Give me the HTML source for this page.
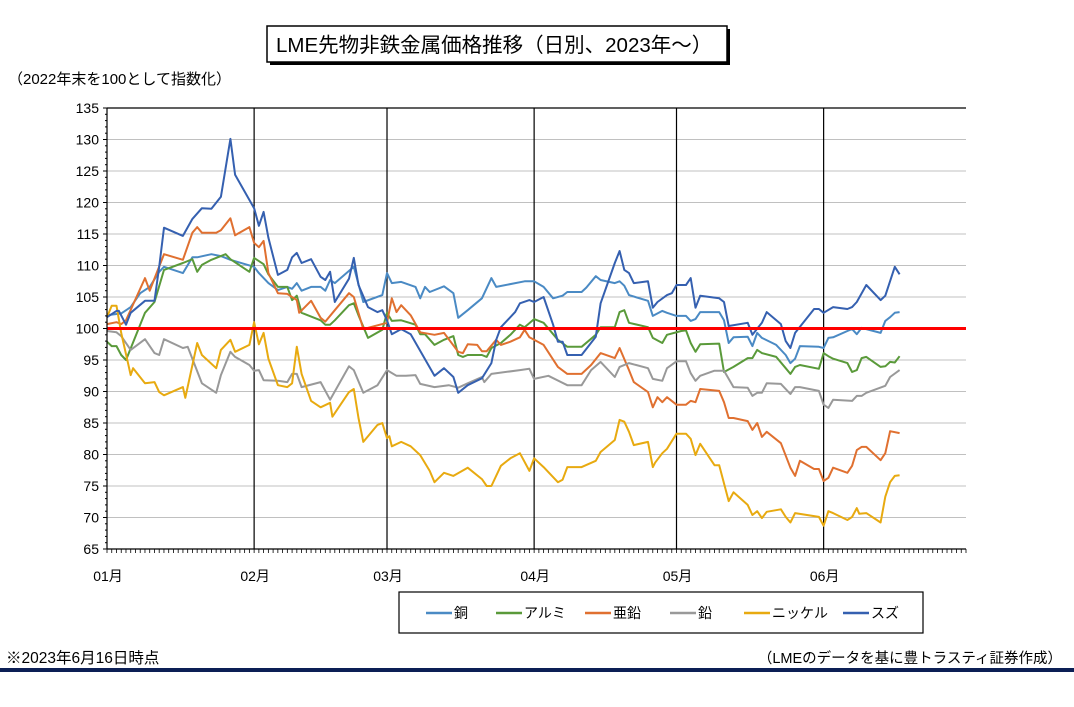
<!DOCTYPE html>
<html><head><meta charset="utf-8"><style>
body{margin:0;background:#fff;}
svg{display:block;font-family:"Liberation Sans","Noto Sans CJK JP",sans-serif;}
</style></head><body>
<svg id="chart" width="1074" height="707" viewBox="0 0 1074 707">
<rect x="270" y="29" width="460" height="36" fill="#000"/>
<rect x="267" y="26" width="460" height="36" fill="#fff" stroke="#000" stroke-width="1.5"/>
<text x="276" y="52" font-size="20.5">LME先物非鉄金属価格推移（日別、2023年～）</text>
<text x="8" y="84" font-size="15">（2022年末を100として指数化）</text>
<g id="grid"></g>
<g id="series"></g>
<g id="axes"></g>
<rect x="399" y="592" width="524" height="41" fill="#fff" stroke="#000" stroke-width="1.2"/>
<g id="legend"></g>
<text x="6" y="663" font-size="15.5">※2023年6月16日時点</text>
<text x="1062" y="663" font-size="14.5" text-anchor="end">（LMEのデータを基に豊トラスティ証券作成）</text>
<rect x="0" y="668" width="1074" height="4" fill="#0c1f55"/>
</svg>
<script>
const yTicks=[65,70,75,80,85,90,95,100,105,110,115,120,125,130,135];
const monthLabels=["01月","02月","03月","04月","05月","06月"];
const monthStarts=[0,31,59,90,120,151];
const seriesNames=["銅","アルミ","亜鉛","鉛","ニッケル","スズ"];
const seriesColors=["#4a8ac4","#5a9a3a","#e07030","#999999","#e8aa10","#3560b0"];
const copper=[[0,102.1],[3,102.4],[5,103.4],[7,105.6],[9,106.6],[11,109],[12,109.8],[16,108.8],[18,111.3],[19,111.3],[22,111.8],[24,111.5],[26,110.9],[31,109.8],[32,108.8],[34,107.2],[36,106.1],[38,106.6],[39,106.3],[40,107.2],[41,106],[43,106.6],[45,106.6],[46,106],[47,107.7],[48,107.2],[52,109.8],[54,104.2],[58,105.3],[59,108.8],[60,107.2],[62,107.4],[65,106.6],[66,104.8],[67,106.6],[68,105.8],[71,106.7],[73,105.6],[74,101.7],[76,102.9],[79,104.8],[81,108],[82,106.6],[88,107.5],[90,107.5],[92,106.6],[94,104.8],[96,105.2],[97,105.8],[100,105.8],[101,106.5],[103,108.3],[104,107.7],[107,107.2],[108,107.5],[109,106.8],[110,105.3],[114,104.4],[115,102],[117,102.8],[118,102.5],[120,102],[122,102],[123,101.2],[124,101.5],[125,102.6],[129,102.6],[130,101.3],[131,97.7],[132,98.6],[135,98.7],[136,97.2],[137,99.3],[138,98.5],[141,97.4],[143,95.8],[144,94.5],[145,95.2],[146,97.2],[150,97.1],[151,96.9],[152,98.5],[153,98.6],[156,99.6],[157,99.9],[158,99.1],[159,100.1],[163,99.3],[164,101.2],[165,101.8],[166,102.5],[167,102.6]];
const aluminium=[[0,97.9],[1,97.2],[2,97.2],[3,95.8],[4,95],[8,102.5],[10,104.2],[12,109.3],[16,110.4],[18,111],[19,109],[20,110.1],[22,110.9],[25,111.8],[26,111],[30,109],[31,111.2],[33,110.2],[34,108.6],[36,106.6],[38,106.6],[39,104.5],[40,105.2],[41,102.5],[45,101.3],[46,100.6],[47,100.6],[48,101.3],[51,103.7],[52,104],[53,102.1],[55,98.5],[58,99.8],[59,102.5],[60,101.2],[62,101.3],[65,100.6],[66,99.1],[67,99.1],[69,97.4],[71,98.2],[73,98.8],[74,95.8],[75,95.5],[76,95.8],[79,95.8],[80,95.5],[81,96.9],[83,97.7],[85,99],[87,100.6],[88,100.2],[90,101.5],[92,100.9],[95,98.2],[97,97.1],[100,97.1],[103,99],[104,100.2],[107,100.2],[108,102.6],[109,102.9],[110,100.9],[114,100.2],[115,98.5],[117,97.7],[118,99],[121,99.6],[122,99.7],[123,97.7],[124,96.3],[125,97.5],[129,97.6],[130,93.1],[132,93.9],[135,95.3],[136,95.3],[137,96.6],[138,96.1],[141,95.5],[143,93.7],[144,92.8],[145,93.9],[146,94.2],[150,93.6],[151,96.1],[152,95.6],[153,95.2],[156,94.5],[157,93.1],[158,93.4],[159,95.3],[160,95.5],[163,93.9],[164,94],[165,94.7],[166,94.6],[167,95.6]];
const zinc=[[0,100.7],[2,101],[3,100.7],[4,101.3],[8,108],[9,106],[12,111.8],[16,110.9],[18,115.2],[19,116.1],[20,115.2],[23,115.2],[24,115.6],[26,117.5],[27,114.8],[30,116.1],[31,113.6],[32,112.9],[33,113.9],[34,108.8],[36,105.6],[38,105.5],[40,104.5],[40.5,102.5],[43,104.4],[45,101.7],[46,101.1],[48,102.9],[51,105.6],[52,105],[54,99.9],[59,100.9],[60,104.8],[61,102.6],[62,103.7],[64,102.1],[66,99.4],[69,99],[71,99.3],[74,96.3],[75,96.1],[76,97.5],[78,97.4],[79,96.4],[80,96.4],[82,98.2],[83,97.4],[85,97.9],[87,98.6],[88,99.8],[89,98.6],[90,98.2],[92,97.4],[95,93.9],[97,92.8],[100,92.8],[102,94.2],[104,96.1],[107,95.3],[108,96.9],[110,93.4],[111,91.5],[114,89.9],[115,87.5],[116,89.1],[117,88.3],[118,89.1],[120,87.9],[122,87.9],[123,88.5],[124,88.3],[125,90.4],[129,90.1],[130,88.3],[131,85.8],[132,85.8],[135,85.3],[136,83.9],[137,85],[138,82.8],[139,83.6],[142,81.8],[144,77.9],[145,76.6],[146,79],[149,77.7],[150,77.7],[151,75.8],[152,76.3],[153,77.9],[156,77.1],[157,78.2],[158,80.7],[159,81.2],[160,81.2],[163,79.1],[164,80.2],[165,83.7],[167,83.4]];
const lead=[[0,99.6],[2,99.4],[3,98.8],[5,96.6],[8,98.3],[10,96.1],[11,95.8],[12,98.3],[16,96.9],[17,97.1],[20,91.3],[23,89.8],[24,92.6],[26,96.3],[27,95.5],[30,94.2],[31,93.3],[32,93.4],[33,91.8],[36,91.7],[38,91.5],[39,92.8],[40,92.8],[41,90.7],[45,91.5],[47,88.7],[51,94],[52,93.4],[54,89.8],[57,91],[59,93.4],[61,92.5],[63,92.5],[65,92.6],[66,91.2],[69,90.7],[72,91],[74,90.6],[76,91.3],[79,92.3],[79.5,91.5],[81,92.8],[87,93.4],[89,93.6],[90,92],[93,92.5],[97,91],[100,91],[102,93.4],[104,94.7],[107,92.3],[108,93.9],[110,94.5],[114,93.7],[115,92],[117,91.7],[118,93.7],[120,94.8],[122,94.8],[123,92.9],[124,91.7],[125,92.5],[128,93.3],[130,93.3],[132,90.7],[135,90.6],[136,89.3],[137,89.8],[138,89.8],[139,91.3],[142,91.2],[144,89.6],[145,90.7],[146,90.7],[150,90.1],[151,87.9],[152,87.4],[153,88.7],[157,88.5],[158,89.3],[159,89.3],[160,89.8],[164,90.9],[165,92.3],[167,93.4]];
const nickel=[[0,101.8],[1,103.6],[2,103.6],[3,99.3],[5,92.6],[5.5,93.7],[8,91.3],[10,91.5],[11,89.9],[12,89.4],[16,90.7],[16.5,89],[19,97.7],[20,95.8],[23,93.7],[24,96.6],[26,98.2],[27,96.3],[30,97.4],[31,101],[32,97.5],[33,99.3],[34,95.2],[36,91],[38,90.7],[39,91.3],[40,97.1],[41,92.8],[43,88.5],[45,87.5],[47,88.2],[47.5,86],[51,89.9],[52,90.4],[53,85.8],[54,82],[57,84.7],[58,85],[59,82.6],[59.5,82.9],[60,81.3],[62,82],[64,81.3],[66,79.9],[68,77.4],[69,75.6],[71,77.1],[73,76.6],[76,77.9],[79,76.1],[80,75],[81,75],[83,78.2],[85,79.4],[87,80.2],[89,77.4],[90,79.4],[92,78],[95,75.6],[96,76],[97,78],[100,78],[103,79],[104,80.4],[107,82.3],[108,85.5],[109,85.2],[110,83.6],[111,81.5],[114,82],[115,78],[115.5,78.7],[117,80.2],[118,80.9],[120,83.3],[122,83.3],[123,82.5],[124,79.9],[125,81.7],[128,78.3],[129,78.3],[131,72.6],[132,74],[135,72],[136,70.4],[137,71],[138,69.9],[139,70.9],[142,71.3],[143,70.1],[144,69.2],[145,70.7],[150,70.1],[151,68.7],[152,71],[153,70.7],[156,69.6],[157,70.1],[158,71.5],[158.5,70.6],[160,70.7],[163,69.2],[164,73.3],[165,75.6],[166,76.6],[167,76.7]];
const tin=[[0,101.8],[2,102.8],[2.5,102.8],[4,100.6],[5,102.5],[8,104.4],[10,104.4],[11,109.8],[12,116],[16,114.7],[18,117.4],[20,119.1],[22,119],[24,120.9],[26,130.1],[27,124.4],[31,119.1],[32,116.3],[33,118.5],[34,114.4],[36,108.5],[38,109.3],[39,111.3],[40,112],[41,110.4],[43,111],[45,108.2],[46,107.7],[47,109],[48,104.2],[51,107.9],[52,111.2],[53,106.9],[55,103.4],[57,102.6],[58,102.9],[59,101.3],[60,99.1],[62,99.9],[64,99.1],[69,92.5],[71,93.7],[73,92.3],[74,89.8],[76,91],[79,92.1],[81,94.5],[82,98.2],[83,100.2],[86,102.6],[87,104],[89,104.5],[90,104.2],[92,105],[94,100.6],[95,97.9],[96,97.9],[97,95.8],[100,95.8],[103,98.7],[104,104],[107,110.4],[108,112.3],[109,109.3],[110,108.8],[111,107.2],[114,107.5],[115,103.3],[116,104.2],[118,105.3],[119,105.6],[120,106.9],[122,106.9],[123,108],[124,103.3],[125,105.2],[129,104.8],[130,104.2],[131,100.4],[135,100.9],[136,99],[138,100.9],[139,102.6],[142,100.7],[143,98],[144,96.9],[145,99.3],[149,103.1],[150,103.1],[151,102.5],[153,103.4],[156,103.1],[157,103.4],[158,104.2],[160,106.9],[163,104.5],[164,105.2],[166,109.8],[167,108.6]];
const allSeries=[copper,aluminium,zinc,lead,nickel,tin];

const NS="http://www.w3.org/2000/svg";
const X0=107,X1=966,Y0=549,Y1=108,DAYS=181;
function xs(d){return X0+d*(X1-X0)/DAYS;}
function ys(v){return Y0-(v-65)*(Y0-Y1)/70;}
function mk(tag,attrs,parent){const e=document.createElementNS(NS,tag);for(const k in attrs)e.setAttribute(k,attrs[k]);parent.appendChild(e);return e;}
const gridG=document.getElementById('grid'),axesG=document.getElementById('axes'),serG=document.getElementById('series'),legG=document.getElementById('legend');
yTicks.forEach(t=>{
  if(t!==65&&t!==135){const l=mk('line',{x1:X0,x2:X1,y1:ys(t),y2:ys(t),stroke:'#c0c0c0','stroke-width':1},gridG);
  
  }
  const tk=mk('line',{x1:X0-4,x2:X0,y1:ys(t),y2:ys(t),stroke:'#000'},axesG);
  
  
  const tx=mk('text',{x:X0-8,y:ys(t)+5,'font-size':14,'text-anchor':'end'},axesG);
  
  
  tx.textContent=t;
});
for(let i=0;i<70;i++){if(i%5===0)continue;const y=ys(65+i);
  const m=mk('line',{x1:X0-2,x2:X0,y1:y,y2:y,stroke:'#000'},axesG);
  
  }
for(let d=0;d<=DAYS;d++){const m=mk('line',{x1:xs(d),x2:xs(d),y1:Y0,y2:Y0+4,stroke:'#000','stroke-width':0.8},axesG);
  
  }
monthStarts.forEach((d,i)=>{
  if(i>0){const l=mk('line',{x1:xs(d),x2:xs(d),y1:Y1,y2:Y0,stroke:'#000','stroke-width':1.2},gridG);
  
  }
  const t=mk('text',{x:xs(d)+1,y:581,'font-size':14,'text-anchor':'middle'},axesG);
  
  
  t.textContent=monthLabels[i];
});
const topBorder=mk('line',{x1:X0,x2:X1,y1:Y1,y2:Y1,stroke:'#000','stroke-width':1.2},axesG);


const yAxisLine=mk('line',{x1:X0,x2:X0,y1:Y1,y2:Y0,stroke:'#000','stroke-width':1.2},axesG);


const xAxisLine=mk('line',{x1:X0,x2:X1,y1:Y0,y2:Y0,stroke:'#000','stroke-width':1.2},axesG);


allSeries.forEach((s,i)=>{
  const p=mk('polyline',{points:s.map(q=>xs(q[0]).toFixed(1)+','+ys(q[1]).toFixed(1)).join(' '),fill:'none',stroke:seriesColors[i],'stroke-width':2,'stroke-linejoin':'round'},serG);
  
  
});
const refLine=mk('line',{x1:X0,x2:X1,y1:ys(100),y2:ys(100),stroke:'#ff0000','stroke-width':3},serG);


const legX=[426,496,585,670,744,843];
seriesNames.forEach((n,i)=>{
  const l=mk('line',{x1:legX[i],x2:legX[i]+26,y1:613,y2:613,stroke:seriesColors[i],'stroke-width':2.5},legG);
  
  
  const t=mk('text',{x:legX[i]+28,y:618,'font-size':14},legG);
  
  
  t.textContent=n;
});
</script>
</body></html>
